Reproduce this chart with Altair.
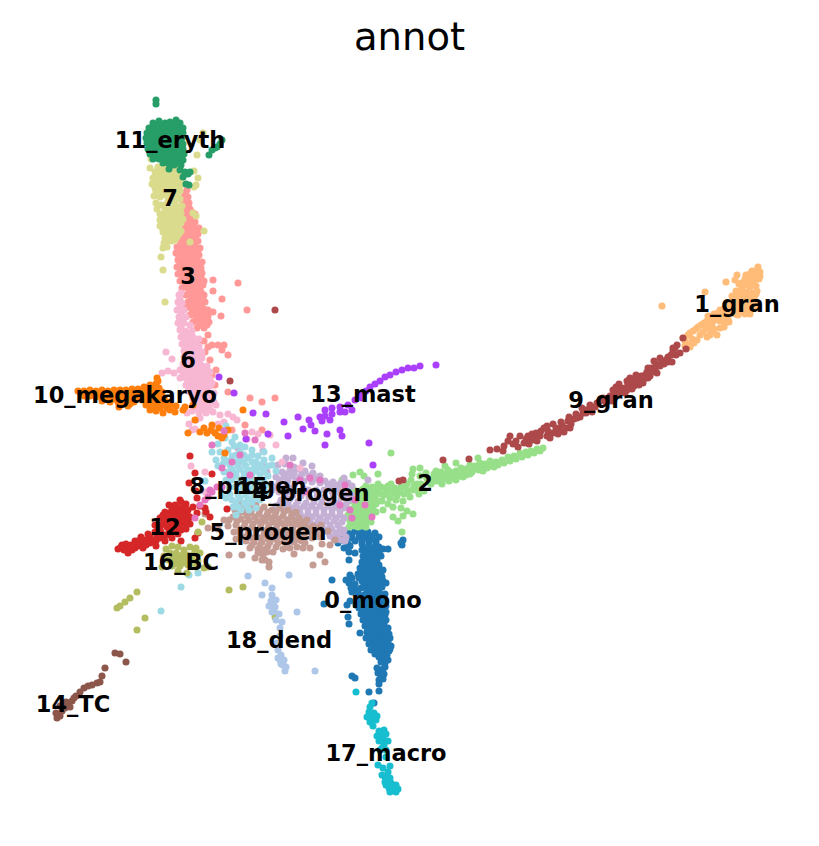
import altair as alt
import pandas as pd

c0 = [(342,537),(348,533),(355,531),(362,530),(368,532),(375,533),(338,543),(345,541),(352,538),(359,537),(366,538),(373,539),(379,537),
(344,548),(350,546),(362,544),(369,545),(376,544),(349,552),(355,553),(362,550),(369,551),(376,550),(383,549),(388,549),(381,556),
(363,556),(370,557),(376,557),(362,562),(368,563),(374,563),(379,565),(360,568),(366,569),(372,570),(378,571),(383,570),(358,574),(364,575),
(370,576),(376,577),(382,577),(352,578),(349,583),(355,584),(362,581),(368,582),(374,583),(380,584),(386,583),(356,590),(361,588),(367,589),(373,590),(379,591),
(352,592),(364,595),(370,596),(376,597),(382,597),(350,601),(358,602),(363,601),(369,602),(375,603),(381,603),(385,601),(359,608),(365,608),(371,609),(377,610),(383,609),
(361,614),(367,615),(373,616),(379,616),(385,615),(363,620),(369,621),(375,622),(381,621),(386,620),(365,626),(371,627),(377,628),(383,627),(388,628),
(367,632),(373,633),(379,634),(385,633),(389,634),(366,638),(372,639),(378,640),(384,639),(390,638),(369,644),(375,645),(381,645),(387,645),(391,646),(371,650),(377,651),(383,651),(389,651),
(385,656),(379,657),(388,660),(381,662),(385,663),(377,668),(383,669),(378,673),(384,674),(379,680),(383,679),(379,684),
(332,580),(324,604),(348,617),(349,624),(360,633),(352,676),(355,678),(369,692),(379,691),(403,540),(402,545),(401,543),(374,703),(346,580),(350,575),(351,588),(349,560),(347,605)]
c0_fill = [(345,536),(352,534),(359,533),(365,535),(371,536),(341,540),(348,544),(355,541),(362,541),(369,542),(376,541),(365,548),(372,548),(379,547),(366,553),(373,554),(379,553),(365,559),(371,560),(377,560),
(363,565),(371,566),(377,567),(361,571),(369,573),(375,574),(381,574),(359,578),(365,579),(371,580),(377,580),(383,581),(364,585),(370,586),(376,587),(382,587),(358,593),(367,592),(373,593),(379,594),(385,594),(361,598),(367,599),(373,600),(379,600),
(356,605),(362,605),(368,606),(374,606),(380,606),(386,606),(362,611),(368,612),(374,613),(380,613),(386,612),(364,617),(370,618),(376,619),(382,618),(366,623),(372,624),(378,625),(384,624),(368,629),(374,630),(380,631),(386,630),
(369,636),(375,636),(381,637),(387,636),(370,641),(376,642),(382,642),(388,642),(372,647),(378,648),(384,648),(390,649),(375,654),(381,654),(387,655),(382,659),(385,667),(381,671),(381,676)]
c1 = [(758,267),(752,271),(746,275),(755,274),(760,272),(748,280),(754,281),(759,279),(744,285),(750,287),(756,286),(740,291),(746,292),(752,293),(757,291),
(736,296),(742,298),(748,299),(754,298),(732,301),(738,303),(744,304),(750,304),(756,302),(728,306),(734,309),(740,310),(746,310),(752,309),(757,308),(738,315),(726,313),(720,310),
(716,316),(710,320),(704,323),(712,324),(720,321),(728,319),(698,327),(706,329),(693,331),(688,335),(683,338),(700,335),(707,337),(712,332),(717,335),(720,328),(724,327),(690,347),(694,343),(697,340),(685,346),(729,322),
(662,306),(705,292),(726,282),(737,275),(735,280),(739,284)]
c1_fill = [(750,274),(757,270),(745,279),(751,277),(757,277),(742,288),(748,284),(754,284),(760,276),(738,294),(744,295),(750,296),(756,294),(734,298),(740,300),(746,301),(752,301),(730,304),(736,306),(742,307),(748,307),(754,306),(724,309),(730,310),(735,312),(741,312),(747,312),
(718,313),(723,315),(712,318),(717,320),(707,321),(701,325),(696,329),(690,333),(685,341),(692,339),(709,327),(714,329),(703,332),(710,335),(690,344),(725,323),(722,318),(733,304),(729,311),(736,291),(732,296),(727,303),(741,283),(740,296),(735,314),(745,314),(750,314),(714,314),(708,316)]
c2 = [(543,448),(537,449),(531,451),(526,452),(520,453),(514,456),(508,457),(502,460),(496,462),(490,461),(485,464),(480,463),(475,466),(470,465),(466,469),(461,468),(456,471),(450,472),(444,474),(438,475),
(433,478),(427,478),(494,467),(487,468),(479,470),(472,472),(466,475),(459,476),(452,478),(445,479),(438,481),(431,484),(424,491),(417,484),(411,480),(405,487),(412,490),(419,494),(398,490),(404,494),(410,497),
(391,484),(385,488),(391,491),(397,496),(403,501),(378,484),(372,487),(366,486),(384,495),(390,498),(378,491),(372,493),(366,493),(360,491),(354,490),(349,494),(356,497),(362,498),(368,499),(375,498),(382,501),
(350,501),(356,503),(362,504),(369,505),(376,504),(346,507),(352,509),(358,510),(364,511),(370,512),(348,515),(354,516),(360,517),(366,518),(350,521),(356,523),(362,523),(371,522),(366,527),(358,527),(349,527),
(391,453),(353,475),(360,472),(364,476),(402,532),(413,514),(393,517),(403,516),(401,508),(398,521),(407,511),(378,474),(413,469),(420,468),(427,478),(436,471),(456,463),(445,466),(478,458),(342,480),(376,512),(383,510)]
c2_fill = [(540,451),(534,453),(528,455),(522,457),(516,459),(510,461),(504,463),(498,465),(492,463),(482,467),(476,469),(469,469),(463,472),(456,474),(449,475),(442,477),(435,481),(428,482),(421,484),(414,486),(407,484),(401,487),(395,488),(388,486),(381,487),(375,488),(369,490),(363,489),(357,494),(352,498),(359,501),(365,501),(371,502),(378,501),
(355,506),(361,507),(367,508),(373,508),(350,512),(356,513),(362,514),(368,515),(353,519),(359,520),(365,521),(354,526),(362,526),(400,492),(394,493),(416,490),(408,491),(387,492),(381,494),(375,495),(369,496),(363,495),(449,481),(442,484),(456,480),(463,477),(470,474),(483,471),(490,466),(434,474),(441,472),(448,470),(426,473),(420,476),(412,474),(396,500),(388,504),(393,507)]
c3 = [(187,190),(184,197),(188,197),(183,203),(189,203),(184,209),(190,209),(183,215),(189,215),(195,214),(184,221),(190,221),(195,222),(185,227),(191,227),(196,229),(186,233),(192,234),(198,234),
(180,241),(186,240),(192,241),(198,241),(177,247),(183,247),(189,247),(195,247),(200,248),(176,253),(182,254),(188,254),(194,254),(199,255),(178,260),(184,260),(190,260),(196,260),(202,262),
(177,267),(183,267),(189,267),(195,267),(201,268),(178,274),(184,274),(190,274),(196,274),(202,273),(180,281),(186,281),(192,281),(198,281),(204,281),(182,288),(188,288),(194,288),(200,288),(186,295),(192,295),(198,295),(204,295),
(188,302),(194,302),(200,302),(205,302),(186,308),(192,309),(198,309),(204,309),(208,310),(190,315),(196,316),(202,316),(208,316),(193,322),(199,322),(205,322),(209,322),(197,328),(204,328),
(213,280),(213,291),(222,299),(238,283),(213,312),(221,316),(247,310),(205,352),(212,345),(222,350),(228,355),(216,370),(228,392),(250,398),(262,402),(275,398),(245,425),(262,430),(232,430),(204,341),(208,347),(198,342),(208,335),(210,360),(218,345),(224,345),(212,375),(215,385)]
c3_fill = [(186,200),(186,206),(187,212),(192,212),(186,218),(192,218),(188,224),(193,225),(189,230),(194,231),(183,237),(189,237),(195,238),(183,244),(189,244),(195,244),(180,250),(186,250),(192,250),(198,251),(179,257),(185,257),(191,257),(197,257),(180,264),(186,264),(192,264),(198,264),
(181,271),(187,271),(193,271),(199,271),(183,278),(189,278),(195,278),(201,277),(185,285),(191,285),(197,285),(203,285),(189,292),(195,292),(201,292),(191,299),(197,299),(203,299),(189,305),(195,306),(201,306),(193,312),(199,312),(205,313),(196,319),(202,319),(207,319),(201,325),(207,325),(185,193),(193,218),(199,228)]
c4 = [(282,472),(290,470),(298,469),(305,471),(313,473),(320,476),(276,477),(284,477),(292,476),(300,477),(325,481),(333,482),(341,483),(348,483),(352,486),(271,484),(279,483),(287,484),
(295,484),(303,488),(330,487),(338,489),(346,490),(272,490),(279,492),(287,492),(345,497),(352,495),(281,500),(290,499),(298,501),(306,503),(314,502),(322,502),(330,502),(338,503),(346,504),(276,506),(284,507),(292,508),
(300,509),(308,510),(316,510),(324,510),(332,510),(340,511),(296,516),(304,517),(312,517),(320,518),(328,517),(336,518),(344,518),(306,524),(314,525),(322,525),(330,525),(338,525),(312,532),(320,532),(328,532),(336,533),(343,533),
(334,539),(341,540),(346,537),(286,458),(238,448),(263,451),(293,458),(294,467),(313,475),(344,478),(368,480),(312,466),(303,463),(285,464),(278,465),(242,462),(257,467),(267,472),(262,465),(344,530),(345,541)]
c4_fill = [(286,474),(294,473),(302,474),(309,476),(317,479),(280,480),(288,480),(296,480),(304,481),(312,482),(320,483),(328,484),(336,485),(344,486),(276,487),(284,488),(292,488),(300,492),(308,490),(316,490),(324,490),(332,492),(340,493),(348,493),
(285,496),(293,495),(301,496),(309,497),(317,496),(325,497),(333,497),(341,498),(349,500),(280,503),(288,503),(296,505),(304,506),(312,506),(320,506),(328,506),(336,507),(344,508),(300,513),(308,514),(316,514),(324,514),(332,514),(340,515),(310,521),(318,521),(326,521),(334,521),(342,522),(316,528),(324,529),(332,529),(340,529),(330,536),(338,536)]
c5 = [(240,503),(248,507),(256,505),(264,507),(272,510),(280,508),(288,510),(296,512),(235,510),(243,512),(251,513),(259,514),(267,515),(275,516),(283,516),(291,517),(299,518),(307,520),
(233,517),(241,519),(249,520),(257,521),(265,521),(273,522),(281,523),(289,523),(297,524),(305,525),(313,526),(321,525),(236,525),(244,527),(252,527),(260,528),(268,528),(276,529),(284,529),(292,530),(300,531),(308,531),(316,532),(228,526),
(240,533),(248,534),(256,535),(264,535),(272,535),(280,536),(288,536),(296,537),(304,537),(312,538),(320,537),(246,541),(254,542),(262,542),(270,542),(278,543),(286,543),(294,542),(305,543),(250,548),(258,549),(266,549),(283,549),(290,548),
(258,553),(263,555),(267,552),(229,555),(242,555),(269,567),(303,548),(320,555),(335,540),(325,562),(313,565),(208,528),(205,514),(224,520),(328,531),(330,545),(322,544),(218,529),(269,562),(265,560),(310,548)]
c5_fill = [(244,508),(252,509),(260,510),(268,512),(276,512),(284,512),(292,514),(238,514),(247,516),(255,517),(263,518),(271,518),(279,519),(287,520),(295,521),(303,522),(237,521),(245,523),(253,524),(261,524),(269,525),(277,525),(285,526),(293,527),(301,527),(309,528),(317,528),
(240,529),(248,530),(256,531),(264,531),(272,532),(280,532),(288,533),(296,533),(304,534),(312,534),(244,537),(252,538),(260,538),(268,539),(276,539),(284,540),(292,540),(300,540),(252,545),(260,545),(268,546),(276,547),(263,551),(234,532),(229,520),(236,539),(288,547),(297,547),(255,558),(262,560),(273,552),(294,554),(302,541)]
c6 = [(179,295),(181,293),(178,302),(182,303),(177,310),(184,310),(179,317),(186,317),(178,323),(184,323),(190,325),(180,330),(186,331),(192,331),(181,337),(187,337),(193,337),(199,339),
(182,344),(188,344),(194,344),(199,346),(184,351),(190,351),(196,351),(202,352),(184,357),(190,358),(196,358),(202,358),(166,352),(172,359),(183,364),(189,365),(195,365),(201,365),(207,366),(180,370),(186,372),(192,372),(198,372),(204,372),(210,372),
(168,371),(174,373),(162,373),(180,378),(186,378),(192,379),(198,379),(204,379),(210,379),(186,385),(192,386),(198,386),(204,386),(210,386),(190,392),(196,393),(202,393),(208,393),(214,393),
(193,399),(199,400),(205,400),(211,400),(197,406),(203,406),(209,406),(216,405),(192,411),(199,413),(206,413),(213,412),(220,415),(228,414),(233,417),(196,420),(189,424),(192,430),(195,429),(200,418),(237,420),(224,422),(191,466),
(213,431),(218,424),(252,432),(258,434),(270,435),(247,439),(262,445),(276,445),(282,462),(300,468),(205,492),(205,472),(187,413)]
c6_fill = [(180,299),(180,306),(181,313),(182,320),(181,327),(183,334),(189,334),(184,340),(190,341),(196,341),(185,347),(191,348),(197,348),(187,354),(193,354),(199,355),(187,361),(193,361),(199,362),(183,368),(189,368),(195,369),(201,369),(207,370),(183,375),(189,375),(195,376),(201,376),(207,376),
(188,382),(194,382),(200,383),(206,383),(212,383),(189,389),(195,390),(201,390),(207,390),(193,396),(199,397),(205,397),(211,397),(196,403),(202,403),(208,403),(214,402),(198,409),(204,410),(210,410)]
c7 = [(151,159),(150,168),(163,161),(158,167),(164,168),(170,164),(176,168),(155,172),(161,173),(167,172),(173,173),(179,174),(153,178),(159,179),(165,178),(171,179),(177,180),(182,178),
(152,184),(158,185),(164,185),(170,185),(176,185),(181,185),(156,191),(162,192),(168,191),(174,191),(180,191),(154,196),(160,197),(156,203),(161,205),(157,209),(160,214),(165,210),(171,208),(178,207),(182,206),
(164,214),(170,214),(176,214),(181,213),(160,220),(166,220),(172,220),(178,220),(183,219),(160,226),(166,226),(172,226),(178,226),(163,232),(169,232),(175,232),(181,231),(165,238),(171,238),(177,237),(164,243),(172,241),(167,247),
(194,171),(198,178),(196,185),(194,187),(203,133),(200,140),(197,155),(163,248),(161,257),(163,270),(165,302),(190,242),(204,231),(196,216),(193,213),(180,169)]
c7_fill = [(161,170),(167,169),(173,170),(158,176),(164,175),(170,176),(176,177),(155,181),(161,182),(167,182),(173,182),(179,182),(155,188),(161,188),(167,188),(173,188),(179,188),(165,195),(171,195),(177,195),(168,201),(174,201),(180,199),(165,205),(175,204),(168,211),(174,211),(180,210),
(162,217),(168,217),(174,217),(180,216),(163,223),(169,223),(175,223),(181,223),(163,229),(169,229),(175,229),(167,235),(173,235),(179,234),(168,241),(175,240)]
c8 = [(226,426),(218,444),(225,438),(235,437),(245,447),(252,450),(220,452),(228,450),(234,446),(240,452),(258,456),(264,452),(216,460),(224,458),(232,456),(240,459),(248,458),(256,462),(264,460),(272,458),
(223,464),(230,465),(238,466),(246,466),(254,468),(262,468),(272,465),(228,472),(236,473),(244,473),(252,474),(260,475),(268,476),(232,480),(240,480),(248,481),(256,482),(264,482),(235,487),(243,488),(251,489),(259,489),
(222,493),(230,494),(238,495),(246,495),(254,496),(262,494),(236,502),(244,503),(252,502),(260,500),(233,507),(241,510),(249,510),(256,508),(236,515),(181,587),(161,611),(189,575),(198,573),(205,481)]
c8_fill = [(236,455),(244,455),(252,455),(228,461),(236,462),(244,462),(252,462),(260,465),(232,469),(240,469),(248,470),(256,471),(264,472),(236,476),(244,477),(252,478),(260,479),(238,484),(246,484),(254,485),(262,486),(240,491),(248,492),(256,492),(240,498),(248,499),(256,498),(226,498),(232,500),(224,472),(218,466),(226,480),(229,487),(268,466),(268,485),(266,492),(276,471),(240,445),(232,442),(212,452),(238,507),(247,506)]
c9 = [(490,450),(497,449),(504,446),(513,444),(518,447),(520,436),(526,439),(532,434),(529,444),(537,441),(541,431),(547,436),(553,433),(559,429),(553,424),(547,426),(562,425),(568,421),(574,419),(570,428),
(564,432),(580,417),(586,413),(592,412),(582,408),(590,405),(597,403),(603,398),(610,396),(606,403),(613,390),(619,392),(625,388),(619,384),(627,381),(633,379),(638,383),(632,389),(641,376),(647,372),(642,381),(648,378),
(651,368),(656,364),(650,376),(657,373),(662,362),(668,357),(673,351),(677,345),(673,348),(664,364),(672,362),(680,353),(683,338),(686,349),
(443,460),(469,459),(275,310),(399,481),(510,436),(403,480),(230,381)]
c9_fill = [(524,443),(532,440),(540,436),(548,431),(556,428),(534,437),(550,438),(558,434),(566,428),(571,424),(577,418),(583,413),(589,409),(595,407),(600,401),(607,399),(615,395),(621,388),(628,385),(634,384),(639,379),(645,375),(651,372),(655,369),(660,366),(646,378),(666,360),(671,355),(675,348),(636,375),(630,378),(622,391),(616,387),(639,385),(644,377),(612,401),(676,355),(668,362),(508,441),(516,441),(503,451),
(561,422),(569,417),(576,414),(585,410),(625,393),(631,384),(636,379),(643,383),(648,368),(654,361),(660,358),(627,390),(634,386),(652,372),(528,436),(536,433),(544,428)]
c10 = [(78,391),(84,391),(90,390),(96,391),(102,390),(108,391),(114,390),(120,390),(126,390),(132,389),(138,389),(144,387),(150,385),(156,384),(84,396),(90,396),(96,397),(102,396),(108,396),(114,396),(120,396),(126,396),(132,396),
(138,395),(144,393),(150,392),(156,391),(162,392),(157,378),(156,384),(102,401),(110,402),(118,402),(126,402),(134,402),(142,400),(150,398),(157,398),(164,398),(119,407),(128,406),(146,405),(152,405),(158,405),(164,405),(170,405),(150,410),(156,411),(163,413),(170,410),
(175,412),(183,410),(176,406),(185,407),(204,428),(200,432),(218,436),(222,438),(215,433),(228,430),(195,420),(207,433),(188,433),(219,428),(224,435),(193,405),(243,410),(225,453),(212,425)]
c10_fill = [(81,394),(87,393),(93,393),(99,393),(105,393),(111,393),(117,393),(123,393),(129,393),(135,392),(141,391),(147,389),(153,388),(105,399),(113,399),(121,399),(129,399),(137,398),(145,397),(154,395),(160,395),(122,404),(130,404),(148,402),(155,402),(161,402),(167,402),(153,408),(160,408),(167,408),(158,381),(159,388),(211,430)]
c11 = [(156,100),(156,104),(153,123),(159,121),(165,123),(170,122),(176,120),(180,123),(149,128),(155,128),(161,128),(167,128),(173,127),(179,128),(183,128),(147,133),(153,133),(159,133),(165,133),(171,133),(177,133),(183,133),
(146,138),(152,138),(158,138),(164,138),(170,138),(176,139),(182,138),(147,143),(153,143),(159,144),(165,144),(171,144),(177,144),(183,144),(148,149),(154,149),(160,149),(166,149),(172,150),(178,150),(183,149),
(150,154),(156,154),(162,155),(168,155),(174,155),(180,155),(184,154),(153,159),(159,159),(165,160),(171,160),(177,160),(183,160),(163,163),(174,165),(181,165),(169,169),(180,170),(185,172),(190,172),(183,177),(188,174),(186,184),(189,185),
(209,155),(215,148),(212,150),(222,140),(220,144),(217,147)]
c11_fill = [(156,125),(162,125),(168,125),(174,125),(152,130),(158,130),(164,131),(170,130),(176,130),(182,130),(150,135),(156,136),(162,136),(168,136),(174,136),(180,136),(149,141),(155,141),(161,141),(167,141),(173,141),(179,141),(151,146),(157,146),(163,147),(169,147),(175,147),(181,147),
(153,151),(159,152),(165,152),(171,152),(177,153),(156,157),(162,157),(168,158),(174,158),(180,158),(168,163),(178,163)]
c12 = [(118,549),(122,545),(126,544),(131,545),(124,550),(129,550),(135,548),(140,544),(146,540),(135,541),(141,537),(148,534),(155,532),(161,532),(167,535),(146,545),(153,540),(160,538),(165,541),(172,538),(178,534),
(155,525),(161,525),(167,527),(173,528),(179,527),(185,524),(160,518),(166,519),(172,519),(178,519),(184,517),(190,517),(165,512),(171,512),(177,512),(183,510),(169,505),(175,505),(181,502),(180,500),(186,504),(193,507),
(195,473),(190,456),(212,474),(189,483),(197,498),(196,491),(205,508),(210,517),(206,512),(198,533),(195,538),(227,509),(200,506),(188,510),(190,524),(128,553),(181,541),(197,513)]
c12_fill = [(121,547),(127,547),(133,546),(138,546),(132,550),(138,541),(143,540),(150,537),(157,535),(163,535),(169,532),(175,531),(181,530),(150,543),(156,541),(160,530),(158,528),(164,522),(170,523),(176,523),(182,522),(188,520),(163,515),(169,516),(175,516),(181,515),(187,513),(172,508),(178,508),(184,507),(143,548),(186,529),(156,546)]
c13 = [(360,395),(366,391),(370,387),(375,384),(380,381),(385,377),(390,375),(396,372),(402,370),(408,368),(414,368),(420,366),(436,365),(362,398),(355,400),(348,405),(340,407),(332,408),(325,410),(340,412),(332,414),(325,416),(320,417),
(322,421),(330,420),(345,412),(352,410),(311,425),(315,431),(327,434),(325,445),(340,430),(342,436),(369,443),(298,417),(288,436),(268,434),(253,413),(219,377),(234,393),(373,465),(266,414),(309,420),(303,429),(246,439),(284,422)]
c14 = [(57,718),(60,716),(56,713),(62,711),(60,706),(65,708),(68,703),(72,701),(76,696),(80,692),(84,688),(88,686),(92,685),(97,683),(100,682),(66,702),(74,698),(105,668),(115,653),(120,654),(126,662),(102,676),(70,707)]
c15 = [(212,445),(232,462),(240,455),(250,475),(290,465),(300,480),(310,478),(340,505),(350,510),(365,505),(205,500),(208,497),(212,492),(217,487),(222,487),(200,505),(210,490),(195,518),(230,475),(222,468),(245,433),(224,431),(255,440),(320,480),(305,492),(345,485),(352,518),(355,500),(372,517)]
c16 = [(166,549),(172,546),(178,547),(184,550),(190,547),(196,548),(164,556),(170,553),(176,553),(182,555),(188,555),(194,554),(200,553),(168,560),(174,560),(180,561),(186,561),(192,560),(198,561),(172,566),(180,566),(188,565),(196,567),(204,568),(208,567),(162,567),(178,571),(187,573),
(117,608),(120,606),(125,602),(130,598),(137,592),(145,618),(137,630),(229,590),(243,587),(275,617),(198,532),(202,522),(195,550),(173,557),(179,558),(185,558),(191,558),(176,564),(183,563),(190,563),(197,564)]
c17 = [(356,692),(372,703),(370,707),(369,712),(374,713),(367,717),(372,718),(377,716),(370,722),(376,720),(373,726),(379,731),(384,730),(377,736),(383,737),(388,741),(379,741),(384,745),(380,750),(386,750),(378,765),(383,768),(390,766),(388,772),
(385,777),(390,778),(385,782),(391,783),(396,785),(389,788),(394,790),(398,789),(390,792),(396,792),(382,775),(381,734),(386,734),(382,740),(382,748),(386,757),(387,780),(393,787),(386,785)]
c18 = [(248,576),(265,583),(272,588),(262,595),(272,595),(289,575),(271,601),(276,600),(269,606),(275,607),(272,612),(279,614),(276,620),(282,622),(280,628),(297,612),(278,650),(281,655),(284,660),(278,658),(281,664),(286,667),(285,671),(315,671),(280,636),(277,643),(273,604),(274,610),(280,660),(283,665)]

clusters = [c0+c0_fill,c1+c1_fill,c2+c2_fill,c3+c3_fill,c4+c4_fill,c5+c5_fill,c6+c6_fill,c7+c7_fill,c8+c8_fill,c9+c9_fill,
            c10+c10_fill,c11+c11_fill,c12+c12_fill,c13,c14,c15,c16,c17,c18]
names = ["0_mono","1_gran","2","3","4_progen","5_progen","6","7","8_progen","9_gran",
         "10_megakaryo","11_eryth","12","13_mast","14_TC","15","16_BC","17_macro","18_dend"]
colors = ["#1f77b4","#ffbb78","#98df8a","#ff9896","#c5b0d5","#c49c94","#f7b6d2","#dbdb8d","#9edae5","#ad494a",
          "#ff7f0e","#279e68","#d62728","#aa40fc","#8c564b","#e377c2","#b5bd61","#17becf","#aec7e8"]
label_x = [373,737,425,188,311,268,188,170,248,611,125,170,165,363,73,252,181,386,279]
label_y = [601,305,484,277,494,533,361,199,487,401,396,141,528,395,705,487,563,754,641]

rows = []
for name, pts in zip(names, clusters):
    rows += [{"u": p[0], "v": p[1], "annot": name} for p in pts]
df = pd.DataFrame(rows)
labels = pd.DataFrame({"u": label_x, "v": label_y, "text": names})

xs = alt.Scale(domain=[8, 811], range=[0, 803])
ys = alt.Scale(domain=[8, 838], range=[0, 830])

points = alt.Chart(df).mark_circle(size=50, opacity=1).encode(
    x=alt.X("u:Q", scale=xs, axis=None),
    y=alt.Y("v:Q", scale=ys, axis=None),
    color=alt.Color("annot:N", scale=alt.Scale(domain=names, range=colors), legend=None),
)
text = alt.Chart(labels).mark_text(font="DejaVu Sans", fontSize=22.5, fontWeight="bold", color="black",
                                   align="center", baseline="middle").encode(
    x=alt.X("u:Q", scale=xs, axis=None),
    y=alt.Y("v:Q", scale=ys, axis=None),
    text="text:N",
)
title = alt.Chart(pd.DataFrame({"u": [409.5], "v": [38], "t": ["annot"]})).mark_text(
    font="DejaVu Sans", fontSize=38.5, color="black", align="center", baseline="middle").encode(
    x=alt.X("u:Q", scale=xs, axis=None),
    y=alt.Y("v:Q", scale=ys, axis=None),
    text="t:N",
)
chart = (points + text + title).properties(
    width=803, height=830, padding=0, background="white",
    autosize=alt.AutoSizeParams(type="none"),
).configure_view(stroke=None)
chart.save("out.html", embed_options={"renderer": "svg", "actions": False})
